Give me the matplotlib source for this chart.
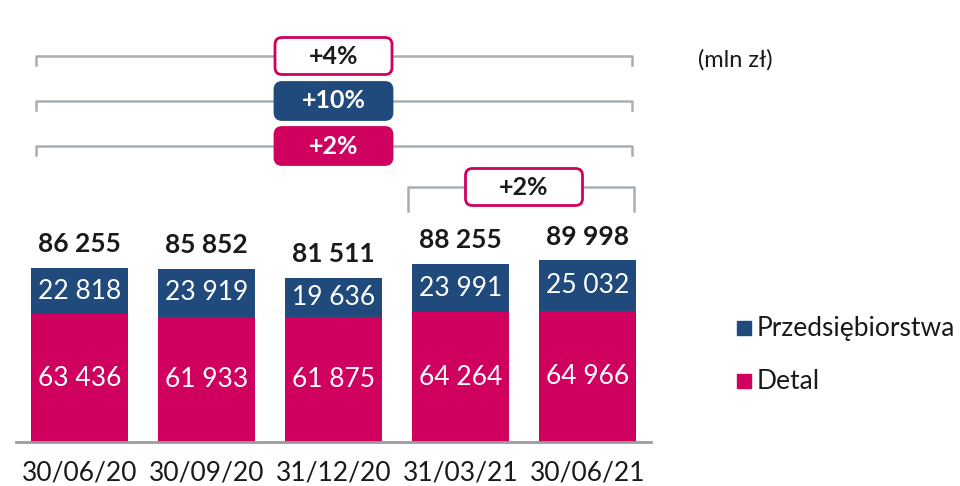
import matplotlib
matplotlib.use('Agg')
from matplotlib import pyplot as plt
from matplotlib.patches import FancyBboxPatch, Rectangle
from matplotlib.lines import Line2D

plt.rcParams['font.family'] = ['Lato', 'DejaVu Sans']

# data (mln zł)
dates_lbl = ['30/06/20', '30/09/20', '31/12/20', '31/03/21', '30/06/21']
detal = [63436, 61933, 61875, 64264, 64966]
przeds = [22818, 23919, 19636, 23991, 25032]
totals = [86255, 85852, 81511, 88255, 89998]

# change boxes: (label, face, edge, text colour)
changes_all = [('+4%', 'white', '#D0005F', '#1a1a1a'),
               ('+10%', '#214A7C', '#214A7C', 'white'),
               ('+2%', '#D0005F', '#D0005F', 'white')]
change_last = '+2%'

PINK = '#D0005F'
BLUE = '#214A7C'
GREY = '#A7AEB4'

W, H = 960, 486
fig = plt.figure(figsize=(W / 100, H / 100), dpi=100)
ax = fig.add_axes([16 / W, 44 / H, 635 / W, 442 / H])


def fmt(v):
    return f'{v:,}'.replace(',', ' ')


x = list(range(len(dates_lbl)))
bw = 0.76
ax.bar(x, detal, width=bw, color=PINK)
ax.bar(x, przeds, width=bw, bottom=detal, color=BLUE)

for i in x:
    ax.text(i, detal[i] / 2, fmt(detal[i]), ha='center', va='center',
            color='white', fontsize=19)
    ax.text(i, detal[i] + przeds[i] / 2, fmt(przeds[i]), ha='center',
            va='center', color='white', fontsize=19)
    ax.annotate(fmt(totals[i]), (i, totals[i]), xytext=(0, 11.5),
                textcoords='offset points', ha='center', va='baseline',
                fontsize=19, fontweight='bold', color='#1a1a1a')

ax.set_xlim(-0.5, 4.5)
ax.set_ylim(0, 442 / 0.002017)
for s in ['top', 'right', 'left']:
    ax.spines[s].set_visible(False)
ax.spines['bottom'].set_color('#9C9C9C')
ax.spines['bottom'].set_linewidth(2)
ax.set_yticks([])
ax.set_xticks(x)
ax.set_xticklabels(dates_lbl, fontsize=19, color='#1a1a1a')
ax.tick_params(axis='x', length=0, pad=13)


# annotations in pixel coordinates (from top-left)
def px(i):
    return 16 + (i + 0.5) * 127


def line(xs, ys):
    fig.add_artist(Line2D([v / W for v in xs], [1 - v / H for v in ys],
                          color=GREY, lw=1.8, transform=fig.transFigure,
                          zorder=1))


def box(cx, cy, label, fc, ec, tc):
    bw_, bh_ = 117, 37
    p = FancyBboxPatch(((cx - bw_ / 2) / 100, (H - cy - bh_ / 2) / 100),
                       bw_ / 100, bh_ / 100,
                       boxstyle='round,pad=0,rounding_size=0.07',
                       fc=fc, ec=ec, lw=2, transform=fig.dpi_scale_trans,
                       zorder=2)
    fig.add_artist(p)
    fig.text(cx / W, 1 - cy / H, label, ha='center', va='center',
             fontsize=18, fontweight='bold', color=tc, zorder=3)


left, right = px(0) - 44, px(4) + 44
for k, (lbl, fc, ec, tc) in enumerate(changes_all):
    y = 56 + k * 45
    line([left, left, right, right], [y + 9, y, y, y + 9])
    box(px(2), y, lbl, fc, ec, tc)

y = 187
l2, r2 = px(3) - 53, px(4) + 46
line([l2, l2, r2, r2], [y + 24, y, y, y + 24])
box((px(3) + px(4)) / 2, y, change_last, 'white', PINK, '#1a1a1a')

fig.text(698 / W, 1 - 60 / H, '(mln zł)', ha='left', va='center',
         fontsize=17, color='#1a1a1a')

# legend
for k, (lbl, c) in enumerate([('Przedsiębiorstwa', BLUE), ('Detal', PINK)]):
    cy = 328 + k * 53
    fig.add_artist(Rectangle((737 / W, 1 - (cy + 7) / H), 14 / W, 14 / H,
                             color=c, transform=fig.transFigure))
    fig.text(757 / W, 1 - cy / H, lbl, ha='left', va='center',
             fontsize=19, color='#1a1a1a')

fig.savefig('out.png', dpi=100)
